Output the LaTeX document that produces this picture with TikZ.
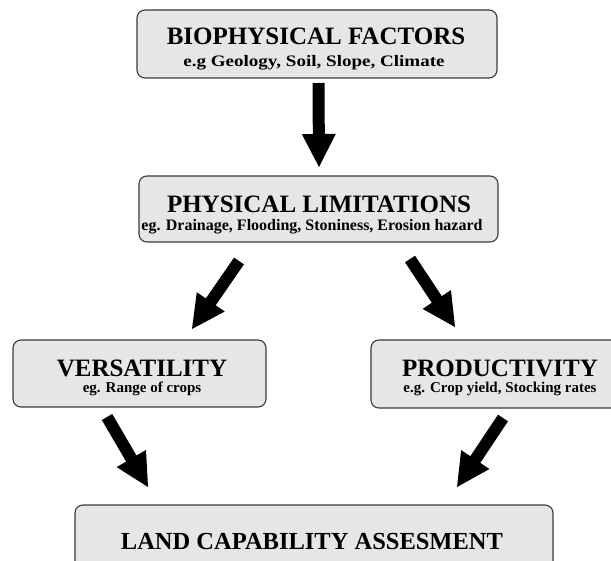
\documentclass[tikz,border=0pt]{standalone}
\usepackage{fontspec}
\setmainfont{Liberation Serif}
\usetikzlibrary{calc}
\definecolor{boxfill}{HTML}{E6E6E6}
\definecolor{boxline}{HTML}{3A3A3A}
\newcommand\fatarrow[2]{%
  \coordinate (fatB) at ($(#2)!33pt!(#1)$);
  \fill[black] ($(#1)!6pt!90:(#2)$) -- ($(fatB)!6pt!90:(#2)$) -- ($(fatB)!17pt!90:(#2)$)
    -- (#2) -- ($(fatB)!17pt!-90:(#2)$) -- ($(fatB)!6pt!-90:(#2)$) -- ($(#1)!6pt!-90:(#2)$) -- cycle;}
\begin{document}
\begin{tikzpicture}[x=1pt,y=-1pt,
  box/.style={draw=boxline, fill=boxfill, line width=1.1pt, rounded corners=8pt, inner sep=0pt},
  ttl/.style={font=\fontsize{25}{25}\selectfont\bfseries, anchor=base, inner sep=0pt},
  sub/.style={font=\fontsize{15}{15}\selectfont\bfseries, anchor=base, inner sep=0pt}]
\useasboundingbox (0,0) rectangle (611,561);
% boxes
\node[box, minimum width=360pt, minimum height=68pt] (bio) at (317,44) {};
\node[box, minimum width=359pt, minimum height=66pt] (phy) at (318.5,209) {};
\node[box, minimum width=253pt, minimum height=67pt] (ver) at (139.5,373.5) {};
\node[box, minimum width=258pt, minimum height=68pt] (pro) at (500,374) {};
\node[box, minimum width=478pt, minimum height=80pt] (land) at (314,545) {};
% texts
\node[ttl] (bioT) at (316,45) {BIOPHYSICAL FACTORS};
\node[sub] (bioS) at (314,67) {\scalebox{1.19}[1]{\fontsize{16}{16}\selectfont e.g Geology, Soil, Slope, Climate}};
\node[ttl] (phyT) at (319,213) {PHYSICAL LIMITATIONS};
\node[sub, font=\fontsize{16}{16}\selectfont\bfseries] (phyS) at (312,231) {eg. Drainage, Flooding, Stoniness, Erosion hazard};
\node[ttl] (verT) at (142,377) {VERSATILITY};
\node[sub] (verS) at (142,393) {eg. Range of crops};
\node[ttl] (proT) at (500,377) {PRODUCTIVITY};
\node[sub] (proS) at (500,393) {e.g. Crop yield, Stocking rates};
\node[ttl, font=\fontsize{24.5}{24.5}\selectfont\bfseries] (landT) at (312,549) {LAND CAPABILITY ASSESMENT};
% arrows
\coordinate (a1s) at (318.5,83);  \coordinate (a1e) at (319,167);
\coordinate (a2s) at (239,261);   \coordinate (a2e) at (192,329);
\coordinate (a3s) at (410,259);   \coordinate (a3e) at (455,327);
\coordinate (a4s) at (107,417);   \coordinate (a4e) at (148,487);
\coordinate (a5s) at (503,418);   \coordinate (a5e) at (457,487);
\fatarrow{a1s}{a1e}
\fatarrow{a2s}{a2e}
\fatarrow{a3s}{a3e}
\fatarrow{a4s}{a4e}
\fatarrow{a5s}{a5e}
\end{tikzpicture}
\end{document}
